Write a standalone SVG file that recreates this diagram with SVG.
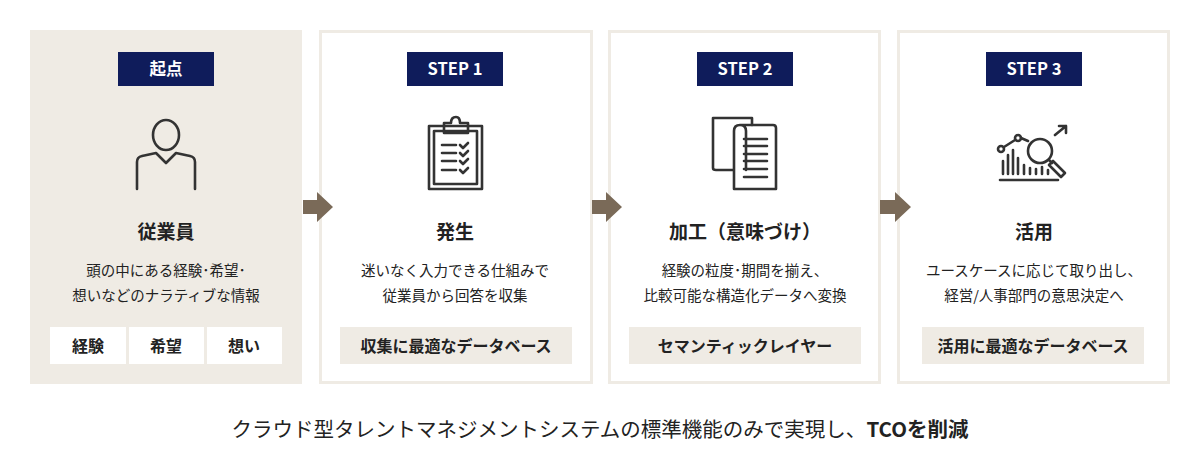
<svg xmlns="http://www.w3.org/2000/svg" width="1200" height="470" viewBox="0 0 1200 470">
<style>
.t{font-family:"Noto Sans CJK JP","Noto Sans",sans-serif;fill:#222}
.b{font-weight:700}
.d{font-size:14.5px}
.g{font-size:16px;font-weight:700}
.badge{fill:#0f1c5b}
.bt{font-family:"Noto Sans CJK JP","Noto Sans",sans-serif;font-weight:700;fill:#fff;font-size:16.5px}
.ic{fill:none;stroke:#333;stroke-width:2.6;stroke-linecap:round;stroke-linejoin:round}
.card{fill:#fff;stroke:#efebe4;stroke-width:3}
.tag{fill:#efebe4}
.arr{fill:#7a6a58}
</style>
<rect width="1200" height="470" fill="#fff"/>
<g id="n0">
<rect x="30" y="30" width="272" height="354" fill="#efebe4"/>
<rect class="badge" x="118" y="52" width="96" height="34"/>
<text class="bt" x="166" y="75" text-anchor="middle">起点</text>
<ellipse class="ic" cx="166" cy="135" rx="13" ry="15"/>
<path class="ic" d="M137,189 V162 Q137,157 142,156 L156,153 L166,163 L176,153 L190,156 Q195,157 195,162 V189"/>
<text class="t b" x="166" y="239" font-size="19" text-anchor="middle">従業員</text>
<text class="t d" x="166" y="276" text-anchor="middle">頭の中にある経験･希望･</text>
<text class="t d" x="166" y="301" text-anchor="middle">想いなどのナラティブな情報</text>
<rect x="50" y="327" width="76" height="37" fill="#fff"/>
<rect x="129" y="327" width="75" height="37" fill="#fff"/>
<rect x="207" y="327" width="75" height="37" fill="#fff"/>
<text class="t g" x="88" y="352" text-anchor="middle">経験</text>
<text class="t g" x="166" y="352" text-anchor="middle">希望</text>
<text class="t g" x="244" y="352" text-anchor="middle">想い</text>
</g>
<g id="n1">
<rect class="card" x="320.5" y="31.5" width="271" height="351"/>
<rect class="badge" x="407" y="52" width="96" height="34"/>
<text class="bt" x="455" y="75" text-anchor="middle">STEP 1</text>
<rect class="ic" x="429" y="126" width="53" height="63" stroke-width="2.2"/>
<rect class="ic" x="434" y="131" width="43" height="53" stroke-width="2.2"/>
<path class="ic" stroke-width="2.2" fill="#fff" d="M444,133 V123 H451 Q451,117 456,117 Q460,117 460,123 H468 V133 Z"/>
<path class="ic" stroke-width="2" d="M442,145 H456 M442,153 H456 M442,161 H456 M442,170 H456 M460,145 l3,3 l5,-5 M460,153 l3,3 l5,-5 M460,161 l3,3 l5,-5 M460,170 l3,3 l5,-5"/>
<text class="t b" x="455" y="239" font-size="19" text-anchor="middle">発生</text>
<text class="t d" x="455" y="276" text-anchor="middle">迷いなく入力できる仕組みで</text>
<text class="t d" x="455" y="301" text-anchor="middle">従業員から回答を収集</text>
<rect class="tag" x="340" y="327" width="232" height="37"/>
<text class="t g" x="456" y="352" text-anchor="middle">収集に最適なデータベース</text>
</g>
<g id="n2">
<rect class="card" x="609.5" y="31.5" width="270" height="351"/>
<rect class="badge" x="697" y="52" width="96" height="34"/>
<text class="bt" x="745" y="75" text-anchor="middle">STEP 2</text>
<path class="ic" stroke-width="2.2" d="M752,125 V118 H713 V168 Q713,170 716,170 H733"/>
<path class="ic" stroke-width="2.2" fill="#fff" d="M740,125 H773 Q776,125 776,128 V189 H734 V131 Q734,125 740,125 Q746,125 746,131 V170"/>
<path class="ic" stroke-width="2" d="M744,139 H767 M744,146 H767 M744,154 H767 M744,161 H767 M744,169 H767 M744,177 H767"/>
<text class="t b" x="745" y="239" font-size="19" text-anchor="middle">加工（意味づけ）</text>
<text class="t d" x="745" y="276" text-anchor="middle">経験の粒度･期間を揃え、</text>
<text class="t d" x="745" y="301" text-anchor="middle">比較可能な構造化データへ変換</text>
<rect class="tag" x="629" y="327" width="232" height="37"/>
<text class="t g" x="745" y="352" text-anchor="middle">セマンティックレイヤー</text>
</g>
<g id="n3">
<rect class="card" x="898.5" y="31.5" width="270" height="351"/>
<rect class="badge" x="986" y="52" width="96" height="34"/>
<text class="bt" x="1034" y="75" text-anchor="middle">STEP 3</text>
<path class="ic" stroke-width="2.2" d="M1000,180 H1058 M1003,174 V161 M1008,174 V155 M1013,174 V150 M1018,174 V158 M1024,174 V165 M1030,174 V168 M1036,174 V169 M1042,174 V167 M1048,174 V170"/>
<circle class="ic" stroke-width="2.2" cx="1001" cy="149" r="3" fill="#fff"/>
<circle class="ic" stroke-width="2.2" cx="1018" cy="138" r="3" fill="#fff"/>
<path class="ic" stroke-width="2.2" d="M1004,147 L1015,140 M1021,138 L1028,141 M1055,135 L1066,126 M1059,126 H1066 V133"/>
<circle class="ic" stroke-width="2.2" cx="1040" cy="151" r="12" fill="#fff"/>
<path class="ic" stroke-width="2.2" d="M1049,160 l3,3 M1053,161 l-4,4 l12,12 l4,-4 z"/>
<text class="t b" x="1034" y="239" font-size="19" text-anchor="middle">活用</text>
<text class="t d" x="1034" y="276" text-anchor="middle">ユースケースに応じて取り出し、</text>
<text class="t d" x="1034" y="301" text-anchor="middle">経営/人事部門の意思決定へ</text>
<rect class="tag" x="922" y="327" width="222" height="37"/>
<text class="t g" x="1033" y="352" text-anchor="middle">活用に最適なデータベース</text>
</g>
<g id="connectors">
<polygon class="arr" points="303,200 317,200 317,192 333,207 317,222 317,214 303,214"/>
<polygon class="arr" points="592,200 606,200 606,192 622,207 606,222 606,214 592,214"/>
<polygon class="arr" points="880,200 895,200 895,192 911,207 895,222 895,214 880,214"/>
</g>
<text class="t" x="600" y="437" font-size="20.5" text-anchor="middle">クラウド型タレントマネジメントシステムの標準機能のみで実現し、<tspan font-weight="700">TCOを削減</tspan></text>
</svg>
